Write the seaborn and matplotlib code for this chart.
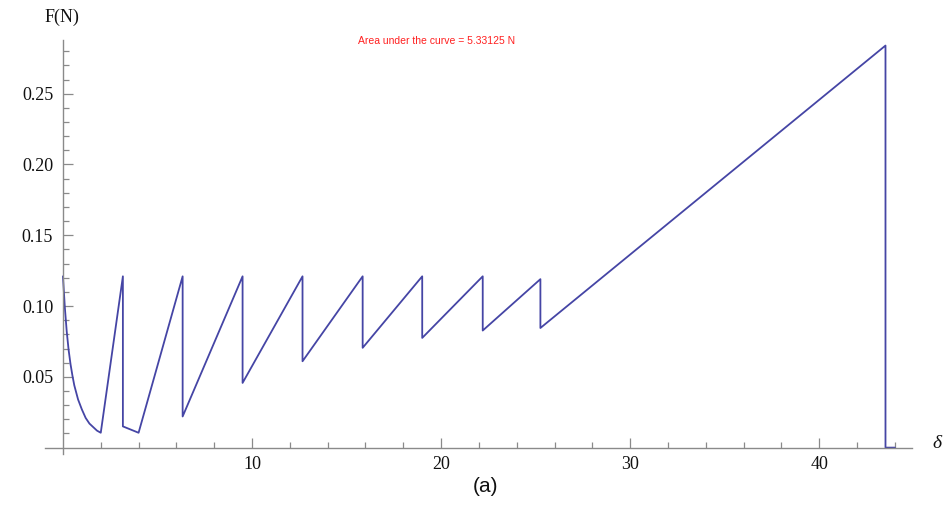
import numpy as np
import pandas as pd
import matplotlib
matplotlib.use("Agg")
import matplotlib.pyplot as plt
from matplotlib.ticker import FixedLocator
import seaborn as sns

# Initial unloading branch (decay from the first peak)
decay_x = [0.0, 0.1, 0.2, 0.3, 0.4, 0.5, 0.6, 0.7, 0.8, 1.0, 1.2, 1.4, 1.6, 1.8, 2.0]
decay_f = [0.121, 0.099, 0.082, 0.069, 0.059, 0.051, 0.044, 0.039, 0.034,
           0.027, 0.021, 0.017, 0.0145, 0.012, 0.0105]

# Saw-tooth part: loading peaks and the drops that follow
saw_x = [3.17, 3.17, 4.0, 6.33, 6.33, 9.5, 9.5, 12.67, 12.67, 15.85, 15.85,
         19.0, 19.0, 22.2, 22.2, 25.25, 25.25, 43.5, 43.5, 44.0]
saw_f = [0.121, 0.015, 0.0105, 0.121, 0.022, 0.121, 0.0457, 0.121, 0.061,
         0.121, 0.0705, 0.121, 0.0775, 0.121, 0.0827, 0.119, 0.0845,
         0.284, 0.0, 0.0]

area_text = "Area under the curve = 5.33125 N"

y_major = [0.05, 0.10, 0.15, 0.20, 0.25]
y_labels = ["0.05", "0.10", "0.15", "0.20", "0.25"]
x_major = [10, 20, 30, 40]
x_labels = ["10", "20", "30", "40"]

df = pd.DataFrame({
    "delta": decay_x + saw_x,
    "F": decay_f + saw_f,
})

sns.set_style("white")
plt.rcParams["font.family"] = ["Liberation Serif", "DejaVu Serif"]

fig = plt.figure(figsize=(9.47, 5.05), dpi=100)
ax = fig.add_axes([0.0475, 0.101, 0.9155, 0.820])

sns.lineplot(data=df, x="delta", y="F", sort=False, estimator=None,
             color="#4545a5", linewidth=1.3, ax=ax)

ax.set_xlim(-0.95, 44.9)
ax.set_ylim(-0.0045, 0.288)

for side in ("top", "right"):
    ax.spines[side].set_visible(False)
ax.spines["left"].set_position(("data", 0))
ax.spines["bottom"].set_position(("data", 0))
for side in ("left", "bottom"):
    ax.spines[side].set_color("#8a8a8a")
    ax.spines[side].set_linewidth(1.0)

ax.yaxis.set_major_locator(FixedLocator(y_major))
ax.set_yticklabels(y_labels)
ax.yaxis.set_minor_locator(FixedLocator([v / 100 for v in range(1, 29)]))
ax.xaxis.set_major_locator(FixedLocator(x_major))
ax.set_xticklabels(x_labels)
ax.xaxis.set_minor_locator(FixedLocator(list(range(2, 45, 2))))

ax.tick_params(axis="both", which="both", bottom=True, left=True,
               top=False, right=False)
ax.tick_params(axis="both", which="major", direction="in", length=7,
               width=0.9, color="#8a8a8a", labelsize=13, labelcolor="#111111")
ax.tick_params(axis="both", which="minor", direction="in", length=4.5,
               width=0.9, color="#8a8a8a")
ax.tick_params(axis="y", which="major", pad=7)
ax.tick_params(axis="x", which="major", pad=6)

ax.set_xlabel("")
ax.set_ylabel("")
ax.grid(False)

fig.text(62 / 947, 1 - 17 / 505, "F(N)", ha="center", va="center",
         fontsize=13, color="#111111")
fig.text(937 / 947, 1 - 443 / 505, "δ", ha="center", va="center",
         fontsize=14, style="italic", color="#111111")
fig.text(485 / 947, 1 - 486 / 505, "(a)", ha="center", va="center",
         fontsize=15, family=["Liberation Sans", "DejaVu Sans"], color="#111111")
fig.text(437 / 947, 1 - 41 / 505, area_text, ha="center", va="center",
         fontsize=7.5, family=["Liberation Sans", "DejaVu Sans"], color="#ff2020")

fig.savefig("out.png", dpi=100, facecolor="white")
